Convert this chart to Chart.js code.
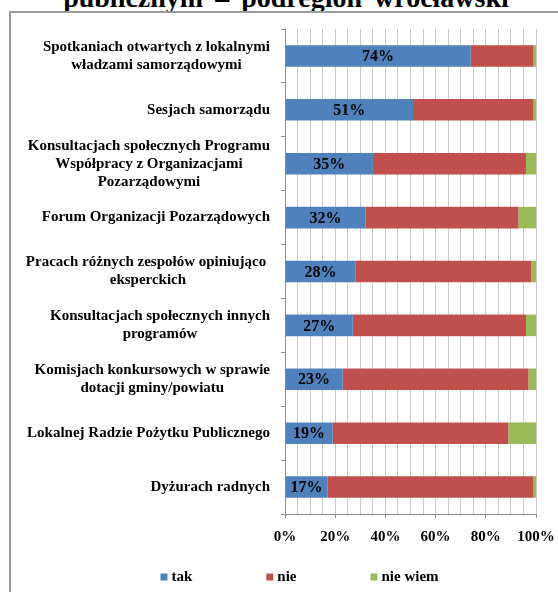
<!DOCTYPE html>
<html>
<head>
<meta charset="utf-8">
<script src="https://cdn.jsdelivr.net/npm/chart.js@4/dist/chart.umd.min.js"></script>
<style>
  html, body { margin: 0; padding: 0; width: 558px; height: 592px; overflow: hidden; background: #fff; }
  #title { position: absolute; left: 0; top: -16px; width: 572px; text-align: center;
           font: bold 28px "Liberation Serif", "Times New Roman", serif; line-height: 28px;
           word-spacing: 5px; color: #000; white-space: nowrap; }
  #frame { position: absolute; left: 9px; top: 11px; width: 700px; height: 700px;
           border-top: 2px solid #9a9a9a; border-left: 2px solid #9a9a9a; }
  #c { position: absolute; left: 0; top: 0; }
</style>
</head>
<body>
<div id="title">publicznym – podregion wrocławski</div>
<div id="frame"></div>
<canvas id="c" width="558" height="592"></canvas>
<script>
const categories = [
  ["Spotkaniach otwartych z lokalnymi", "władzami samorządowymi"],
  ["Sesjach samorządu"],
  ["Konsultacjach społecznych Programu", "Współpracy z Organizacjami", "Pozarządowymi"],
  ["Forum Organizacji Pozarządowych"],
  ["Pracach różnych zespołów opiniująco ", "eksperckich"],
  ["Konsultacjach społecznych innych", "programów"],
  ["Komisjach konkursowych w sprawie", "dotacji gminy/powiatu"],
  ["Lokalnej Radzie Pożytku Publicznego"],
  ["Dyżurach radnych"]
];
const tak     = [74, 51, 35, 32, 28, 27, 23, 19, 17];
const nie     = [25, 48, 61, 61, 70, 69, 74, 70, 82];
const nieWiem = [1, 1, 4, 7, 2, 4, 3, 11, 1];
const seriesNames = ["tak", "nie", "nie wiem"];
const xTickLabels = ["0%", "20%", "40%", "60%", "80%", "100%"];

const SERIF = '"Liberation Serif", "Times New Roman", serif';

const catLabelPlugin = {
  id: 'catLabels',
  afterDraw(chart) {
    const ctx = chart.ctx, y = chart.scales.y;
    ctx.save();
    ctx.font = 'bold 15px ' + SERIF;
    ctx.fillStyle = '#000';
    ctx.textAlign = 'center';
    ctx.textBaseline = 'middle';
    const right = y.right - 15;
    const lh = 18;
    chart.data.labels.forEach((lines, i) => {
      const cy = y.getPixelForTick(i);
      const w = Math.max(...lines.map(l => ctx.measureText(l).width));
      const cx = right - w / 2;
      lines.forEach((l, j) => {
        ctx.fillText(l, cx, cy + (j - (lines.length - 1) / 2) * lh);
      });
    });
    ctx.restore();
  }
};

const valueLabelPlugin = {
  id: 'valueLabels',
  afterDatasetsDraw(chart) {
    const ctx = chart.ctx;
    const meta = chart.getDatasetMeta(0);
    ctx.save();
    ctx.font = 'bold 16px ' + SERIF;
    ctx.fillStyle = '#000';
    ctx.textAlign = 'center';
    ctx.textBaseline = 'middle';
    meta.data.forEach((el, i) => {
      const p = el.getProps(['x', 'y', 'base'], true);
      ctx.fillText(chart.data.datasets[0].data[i] + '%', (p.x + p.base) / 2, p.y + 1);
    });
    ctx.restore();
  }
};

const legendPlugin = {
  id: 'customLegend',
  afterDraw(chart) {
    const ctx = chart.ctx;
    ctx.save();
    ctx.font = 'bold 15px ' + SERIF;
    ctx.textBaseline = 'middle';
    ctx.textAlign = 'left';
    const box = 7, gapText = 4, gapItem = 74, cy = 577, center = 299.5;
    const items = chart.data.datasets.map(d => ({ label: d.label, color: d.backgroundColor, w: box + gapText + ctx.measureText(d.label).width }));
    const total = items.reduce((s, it) => s + it.w, 0) + gapItem * (items.length - 1);
    let x = center - total / 2;
    items.forEach(it => {
      ctx.fillStyle = it.color;
      ctx.fillRect(x, cy - box / 2, box, box);
      ctx.fillStyle = '#000';
      ctx.fillText(it.label, x + box + gapText, cy);
      x += it.w + gapItem;
    });
    ctx.restore();
  }
};

new Chart(document.getElementById('c'), {
  type: 'bar',
  data: {
    labels: categories,
    datasets: [
      { label: seriesNames[0], data: tak, backgroundColor: '#4f81bd' },
      { label: seriesNames[1], data: nie, backgroundColor: '#c0504d' },
      { label: seriesNames[2], data: nieWiem, backgroundColor: '#9bbb59' }
    ]
  },
  options: {
    indexAxis: 'y',
    responsive: false,
    animation: false,
    devicePixelRatio: 1,
    layout: { padding: { top: 29, right: 22, left: 0, bottom: 0 } },
    datasets: { bar: { barPercentage: 0.4, categoryPercentage: 1.0, borderWidth: 0 } },
    plugins: { legend: { display: false }, title: { display: false }, tooltip: { enabled: false } },
    scales: {
      x: {
        stacked: true, min: 0, max: 100,
        afterFit(s) { s.height = 78; s.paddingRight = 0; s.paddingLeft = 0; },
        ticks: {
          stepSize: 5, autoSkip: false, maxRotation: 0, padding: 10,
          color: '#000', font: { family: SERIF, size: 15, weight: 'bold' },
          callback(v) { return v % 20 === 0 ? xTickLabels[v / 20] : ''; }
        },
        grid: {
          color: '#c8c8c8', lineWidth: 1, tickLength: 4,
          tickColor(ctx) { return (ctx.tick && ctx.tick.value % 20 === 0) ? '#8e8e8e' : 'rgba(0,0,0,0)'; }
        },
        border: { color: '#8e8e8e', width: 1 }
      },
      y: {
        stacked: true,
        afterFit(s) { s.width = 285; },
        ticks: { display: false },
        grid: { offset: true, drawOnChartArea: false, tickLength: 4, color: '#8e8e8e' },
        border: { color: '#8e8e8e', width: 1 }
      }
    }
  },
  plugins: [catLabelPlugin, valueLabelPlugin, legendPlugin]
});
</script>
</body>
</html>
